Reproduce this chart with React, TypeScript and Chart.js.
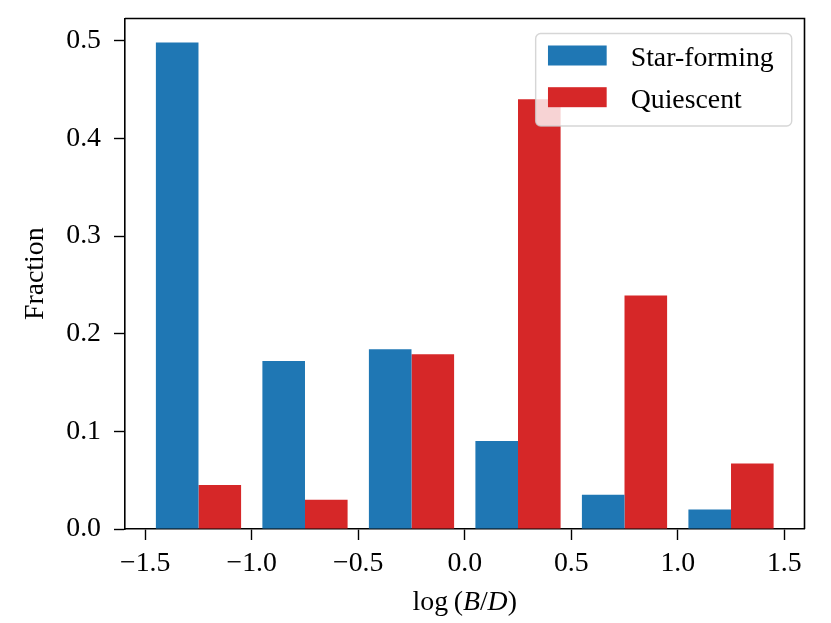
import { JSX, useEffect, useRef } from 'react';
import { Chart, registerables, Plugin } from 'chart.js';

Chart.register(...registerables);

// bin centres of log(B/D), bins are 0.5 wide from -1.5 to 1.5
const binCenters: number[] = [-1.25, -0.75, -0.25, 0.25, 0.75, 1.25];
const starForming: number[] = [0.498, 0.172, 0.184, 0.090, 0.035, 0.020];
const quiescent: number[] = [0.045, 0.030, 0.179, 0.440, 0.239, 0.067];
const seriesLabels: string[] = ['Star-forming', 'Quiescent'];

const xTicks: number[] = [-1.5, -1.0, -0.5, 0.0, 0.5, 1.0, 1.5];
const yTicks: number[] = [0.0, 0.1, 0.2, 0.3, 0.4, 0.5];

const FONT = '"Liberation Serif", "Times New Roman", serif';
const FS = 27.8;

const fmt = (v: number): string => {
  if (Math.abs(v) < 1e-9) return '0.0';
  return (v < 0 ? '\u2212' : '') + Math.abs(v).toFixed(1);
};

// top + right spines, x-axis title with italic B and D, and legend in the upper right
const decorations: Plugin<'bar'> = {
  id: 'decorations',
  afterDraw(chart) {
    const { ctx, chartArea } = chart;
    const { left, right, top, bottom } = chartArea;
    ctx.save();

    // spines
    ctx.strokeStyle = '#000';
    ctx.lineWidth = 1.6;
    ctx.beginPath();
    ctx.moveTo(left, top);
    ctx.lineTo(right, top);
    ctx.lineTo(right, bottom);
    ctx.stroke();

    // x title
    const parts: { t: string; italic: boolean }[] = [
      { t: 'log', italic: false },
      { t: '\u2009(', italic: false },
      { t: 'B', italic: true },
      { t: '/', italic: false },
      { t: 'D', italic: true },
      { t: ')', italic: false },
    ];
    const font = (it: boolean) => `${it ? 'italic ' : ''}${FS}px ${FONT}`;
    let total = 0;
    parts.forEach(p => {
      ctx.font = font(p.italic);
      total += ctx.measureText(p.t).width;
    });
    let x = (left + right) / 2 - total / 2;
    ctx.fillStyle = '#000';
    ctx.textBaseline = 'alphabetic';
    ctx.textAlign = 'left';
    parts.forEach(p => {
      ctx.font = font(p.italic);
      ctx.fillText(p.t, x, bottom + 81);
      x += ctx.measureText(p.t).width;
    });

    // legend
    ctx.font = font(false);
    const datasets = chart.data.datasets;
    const maxW = Math.max(...datasets.map(d => ctx.measureText(String(d.label)).width));
    const boxW = 95 + maxW + 18;
    const boxH = 92.5;
    const bx = right - 12.8 - boxW;
    const by = top + 15;
    ctx.fillStyle = 'rgba(255,255,255,0.8)';
    ctx.strokeStyle = 'rgba(204,204,204,0.8)';
    ctx.lineWidth = 1.4;
    ctx.beginPath();
    ctx.roundRect(bx, by, boxW, boxH, 5);
    ctx.fill();
    ctx.stroke();

    datasets.forEach((d, i) => {
      const py = by + 12 + i * 41.7;
      ctx.fillStyle = String(d.backgroundColor);
      ctx.fillRect(bx + 12.3, py, 58.7, 20);
      ctx.fillStyle = '#000';
      ctx.fillText(String(d.label), bx + 95, py + 20.5);
    });

    ctx.restore();
  },
};

export default function App(): JSX.Element {
  const canvasRef = useRef<HTMLCanvasElement | null>(null);
  const chartRef = useRef<Chart<'bar'> | null>(null);

  useEffect(() => {
    document.body.style.margin = '0';
    if (chartRef.current) chartRef.current.destroy();
    if (!canvasRef.current) return;

    chartRef.current = new Chart(canvasRef.current, {
      type: 'bar',
      data: {
        datasets: [
          {
            label: seriesLabels[0],
            data: binCenters.map((c, i) => ({ x: c, y: starForming[i] })),
            backgroundColor: '#1f77b4',
            borderWidth: 0,
          },
          {
            label: seriesLabels[1],
            data: binCenters.map((c, i) => ({ x: c, y: quiescent[i] })),
            backgroundColor: '#d62728',
            borderWidth: 0,
          },
        ],
      },
      options: {
        animation: false,
        responsive: true,
        maintainAspectRatio: false,
        events: [],
        layout: { padding: { top: 18.5, right: 26.5, left: 0, bottom: 0 } },
        datasets: { bar: { categoryPercentage: 0.8, barPercentage: 1.0 } },
        plugins: {
          legend: { display: false },
          tooltip: { enabled: false },
        },
        scales: {
          x: {
            type: 'linear',
            offset: false,
            min: -1.595,
            max: 1.595,
            afterBuildTicks: scale => {
              scale.ticks = xTicks.map(v => ({ value: v }));
            },
            afterFit: scale => {
              scale.height = 94;
              scale.paddingLeft = 0;
              scale.paddingRight = 0;
            },
            ticks: {
              color: '#000',
              font: { family: FONT, size: FS },
              padding: 7,
              maxRotation: 0,
              autoSkip: false,
              callback: v => fmt(Number(v)),
            },
            grid: {
              offset: false,
              drawOnChartArea: false,
              drawTicks: true,
              tickLength: 11,
              tickColor: '#000',
              tickWidth: 1.4,
            },
            border: { display: true, color: '#000', width: 1.6 },
          },
          y: {
            type: 'linear',
            min: 0,
            max: 0.5227,
            afterBuildTicks: scale => {
              scale.ticks = yTicks.map(v => ({ value: v }));
            },
            afterFit: scale => {
              scale.width = 125;
              scale.paddingTop = 0;
              scale.paddingBottom = 0;
            },
            ticks: {
              color: '#000',
              font: { family: FONT, size: FS },
              padding: 13,
              autoSkip: false,
              callback: v => fmt(Number(v)),
            },
            grid: {
              drawOnChartArea: false,
              drawTicks: true,
              tickLength: 11,
              tickColor: '#000',
              tickWidth: 1.4,
            },
            border: { display: true, color: '#000', width: 1.6 },
            title: {
              display: true,
              text: 'Fraction',
              color: '#000',
              font: { family: FONT, size: FS },
              padding: { top: 19, bottom: 0 },
            },
          },
        },
      },
      plugins: [decorations],
    });

    return () => {
      if (chartRef.current) {
        chartRef.current.destroy();
        chartRef.current = null;
      }
    };
  }, []);

  return (
    <div style={{ width: 831, height: 623, position: 'relative', background: '#fff' }}>
      <canvas ref={canvasRef} />
    </div>
  );
}
